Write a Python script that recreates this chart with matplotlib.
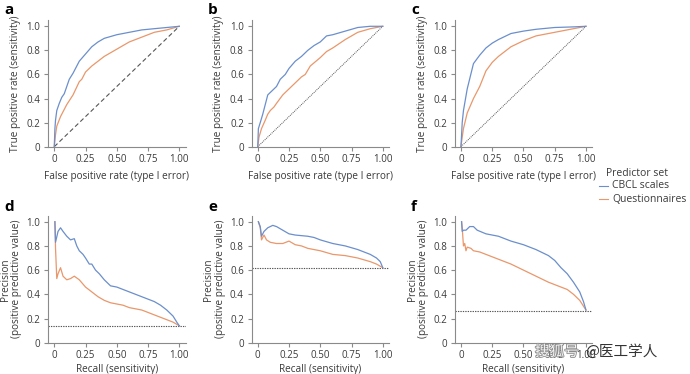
import matplotlib
matplotlib.use("Agg")
import matplotlib.pyplot as plt
from matplotlib.lines import Line2D
import matplotlib.patheffects as pe

plt.rcParams['font.family'] = ['Open Sans', 'DejaVu Sans']

BLUE = '#6b8fcc'
ORANGE = '#e9976b'
TXT = '#3a3a3a'
SPINE = '#8a8a8a'

# ---------------- ROC data ----------------
roc_a_cbcl_x = [0, 0.005, 0.01, 0.02, 0.04, 0.06, 0.08, 0.1, 0.12, 0.15, 0.18, 0.2, 0.25, 0.3, 0.35, 0.4, 0.5, 0.6, 0.7, 0.8, 0.9, 1.0]
roc_a_cbcl_y = [0, 0.15, 0.22, 0.3, 0.36, 0.41, 0.44, 0.5, 0.56, 0.61, 0.67, 0.71, 0.77, 0.83, 0.87, 0.9, 0.93, 0.95, 0.97, 0.98, 0.99, 1.0]
roc_a_q_x = [0, 0.01, 0.02, 0.05, 0.1, 0.15, 0.2, 0.22, 0.25, 0.3, 0.35, 0.4, 0.5, 0.6, 0.7, 0.8, 0.9, 1.0]
roc_a_q_y = [0, 0.1, 0.17, 0.25, 0.35, 0.43, 0.54, 0.56, 0.62, 0.67, 0.71, 0.75, 0.81, 0.87, 0.91, 0.95, 0.97, 1.0]

roc_b_cbcl_x = [0, 0.005, 0.02, 0.04, 0.06, 0.08, 0.1, 0.15, 0.18, 0.22, 0.25, 0.3, 0.35, 0.4, 0.45, 0.5, 0.55, 0.6, 0.7, 0.8, 0.9, 1.0]
roc_b_cbcl_y = [0, 0.15, 0.2, 0.27, 0.35, 0.43, 0.45, 0.5, 0.56, 0.6, 0.65, 0.71, 0.75, 0.8, 0.84, 0.87, 0.92, 0.93, 0.96, 0.99, 1.0, 1.0]
roc_b_q_x = [0, 0.01, 0.03, 0.06, 0.08, 0.1, 0.13, 0.15, 0.2, 0.25, 0.3, 0.35, 0.38, 0.42, 0.5, 0.55, 0.6, 0.7, 0.75, 0.8, 0.9, 1.0]
roc_b_q_y = [0, 0.08, 0.15, 0.22, 0.27, 0.3, 0.33, 0.36, 0.43, 0.48, 0.53, 0.58, 0.6, 0.67, 0.74, 0.79, 0.82, 0.89, 0.92, 0.95, 0.98, 1.0]

roc_c_cbcl_x = [0, 0.01, 0.02, 0.05, 0.1, 0.15, 0.2, 0.25, 0.3, 0.4, 0.5, 0.6, 0.75, 0.9, 1.0]
roc_c_cbcl_y = [0, 0.2, 0.3, 0.48, 0.69, 0.76, 0.82, 0.86, 0.89, 0.94, 0.96, 0.975, 0.99, 0.995, 1.0]
roc_c_q_x = [0, 0.01, 0.02, 0.05, 0.1, 0.15, 0.2, 0.25, 0.3, 0.4, 0.5, 0.6, 0.75, 0.9, 1.0]
roc_c_q_y = [0, 0.08, 0.15, 0.28, 0.4, 0.5, 0.63, 0.7, 0.75, 0.83, 0.88, 0.92, 0.95, 0.98, 1.0]

# ---------------- PR data ----------------
pr_d_cbcl_x = [0.005, 0.01, 0.03, 0.05, 0.07, 0.1, 0.13, 0.16, 0.18, 0.2, 0.23, 0.25, 0.28, 0.3, 0.33, 0.36, 0.4, 0.45, 0.5, 0.55, 0.6, 0.65, 0.7, 0.75, 0.8, 0.85, 0.9, 0.95, 0.98, 1.0]
pr_d_cbcl_y = [1.0, 0.83, 0.92, 0.95, 0.92, 0.88, 0.85, 0.86, 0.8, 0.76, 0.73, 0.7, 0.65, 0.65, 0.6, 0.57, 0.52, 0.47, 0.46, 0.44, 0.42, 0.4, 0.38, 0.36, 0.34, 0.31, 0.27, 0.22, 0.17, 0.14]
pr_d_q_x = [0.005, 0.01, 0.02, 0.03, 0.05, 0.07, 0.1, 0.13, 0.16, 0.2, 0.25, 0.3, 0.35, 0.4, 0.45, 0.5, 0.55, 0.6, 0.65, 0.7, 0.75, 0.8, 0.85, 0.9, 0.95, 1.0]
pr_d_q_y = [1.0, 0.78, 0.53, 0.57, 0.62, 0.55, 0.52, 0.53, 0.55, 0.52, 0.46, 0.42, 0.38, 0.35, 0.33, 0.32, 0.31, 0.29, 0.28, 0.27, 0.25, 0.23, 0.21, 0.19, 0.17, 0.14]

pr_e_cbcl_x = [0.005, 0.02, 0.03, 0.05, 0.08, 0.12, 0.15, 0.2, 0.25, 0.3, 0.4, 0.45, 0.5, 0.6, 0.7, 0.8, 0.9, 0.95, 0.98, 1.0]
pr_e_cbcl_y = [1.0, 0.96, 0.88, 0.92, 0.95, 0.97, 0.96, 0.93, 0.9, 0.89, 0.88, 0.87, 0.85, 0.82, 0.8, 0.77, 0.73, 0.7, 0.67, 0.62]
pr_e_q_x = [0.005, 0.02, 0.03, 0.05, 0.07, 0.1, 0.15, 0.2, 0.25, 0.3, 0.35, 0.4, 0.5, 0.6, 0.7, 0.8, 0.9, 0.95, 1.0]
pr_e_q_y = [1.0, 0.95, 0.85, 0.89, 0.85, 0.83, 0.82, 0.82, 0.84, 0.81, 0.8, 0.78, 0.76, 0.73, 0.72, 0.7, 0.67, 0.65, 0.62]

pr_f_cbcl_x = [0.005, 0.01, 0.02, 0.04, 0.07, 0.1, 0.13, 0.2, 0.3, 0.4, 0.5, 0.6, 0.7, 0.75, 0.8, 0.85, 0.9, 0.95, 0.98, 1.0]
pr_f_cbcl_y = [1.0, 0.92, 0.93, 0.93, 0.96, 0.96, 0.93, 0.9, 0.88, 0.84, 0.81, 0.77, 0.72, 0.68, 0.62, 0.57, 0.5, 0.42, 0.34, 0.27]
pr_f_q_x = [0.005, 0.01, 0.02, 0.03, 0.04, 0.05, 0.08, 0.1, 0.15, 0.2, 0.25, 0.3, 0.4, 0.5, 0.6, 0.7, 0.8, 0.85, 0.9, 0.95, 1.0]
pr_f_q_y = [1.0, 0.95, 0.8, 0.82, 0.76, 0.79, 0.78, 0.76, 0.75, 0.73, 0.71, 0.69, 0.65, 0.6, 0.55, 0.5, 0.46, 0.44, 0.4, 0.35, 0.27]

prevalence = [0.14, 0.615, 0.265]
panel_letters = ['a', 'b', 'c', 'd', 'e', 'f']
x_ticks = [0, 0.25, 0.5, 0.75, 1.0]
x_tick_labels = ['0', '0.25', '0.50', '0.75', '1.00']
y_ticks = [0, 0.2, 0.4, 0.6, 0.8, 1.0]
y_tick_labels = ['0', '0.2', '0.4', '0.6', '0.8', '1.0']
legend_title = 'Predictor set'
legend_labels = ['CBCL scales', 'Questionnaires']

FW, FH = 690, 374
fig = plt.figure(figsize=(6.9, 3.74), dpi=100)

lefts = [0.0696, 0.3645, 0.659]
W = 0.1993
top_bottom, top_h = 0.6078, 0.338
bot_bottom, bot_h = 0.0837, 0.3396

roc = [(roc_a_cbcl_x, roc_a_cbcl_y, roc_a_q_x, roc_a_q_y),
       (roc_b_cbcl_x, roc_b_cbcl_y, roc_b_q_x, roc_b_q_y),
       (roc_c_cbcl_x, roc_c_cbcl_y, roc_c_q_x, roc_c_q_y)]
pr = [(pr_d_cbcl_x, pr_d_cbcl_y, pr_d_q_x, pr_d_q_y),
      (pr_e_cbcl_x, pr_e_cbcl_y, pr_e_q_x, pr_e_q_y),
      (pr_f_cbcl_x, pr_f_cbcl_y, pr_f_q_x, pr_f_q_y)]

LABEL_FS = 7.2


def style(ax):
    for s in ['top', 'right']:
        ax.spines[s].set_visible(False)
    for s in ['left', 'bottom']:
        ax.spines[s].set_color(SPINE)
        ax.spines[s].set_linewidth(0.8)
    ax.set_xlim(-0.05, 1.05)
    ax.set_ylim(0, 1.05)
    ax.set_xticks(x_ticks)
    ax.set_xticklabels(x_tick_labels)
    ax.set_yticks(y_ticks)
    ax.set_yticklabels(y_tick_labels)
    ax.tick_params(length=3, width=0.8, color=SPINE, labelsize=7, labelcolor=TXT, pad=2.5)


for i in range(3):
    ax = fig.add_axes([lefts[i], top_bottom, W, top_h])
    style(ax)
    cx, cy, qx, qy = roc[i]
    if i == 0:
        ax.plot([0, 1], [0, 1], color='#555555', lw=0.8, ls=(0, (4, 2.5)))
    else:
        ax.plot([0, 1], [0, 1], color='#555555', lw=0.7, ls=(0, (1, 1)))
    ax.plot(qx, qy, color=ORANGE, lw=0.9)
    ax.plot(cx, cy, color=BLUE, lw=0.9)
    ax.set_xlabel('False positive rate (type I error)', fontsize=LABEL_FS, color=TXT, labelpad=4)
    ax.set_ylabel('True positive rate (sensitivity)', fontsize=LABEL_FS, color=TXT, labelpad=4)
    fig.text(lefts[i] - 0.063, 0.962, panel_letters[i], fontsize=11, fontweight='bold', color='black')

for i in range(3):
    ax = fig.add_axes([lefts[i], bot_bottom, W, bot_h])
    style(ax)
    cx, cy, qx, qy = pr[i]
    ax.axhline(prevalence[i], color='#555555', lw=0.8, ls=(0, (1.2, 1)))
    ax.plot(qx, qy, color=ORANGE, lw=0.9)
    ax.plot(cx, cy, color=BLUE, lw=0.9)
    ax.set_xlabel('Recall (sensitivity)', fontsize=LABEL_FS, color=TXT, labelpad=2)
    ax.set_ylabel('Precision\n(positive predictive value)', fontsize=LABEL_FS, color=TXT, labelpad=3, linespacing=1.05)
    fig.text(lefts[i] - 0.063, 0.437, panel_letters[i + 3], fontsize=11, fontweight='bold', color='black')

# legend drawn manually at the right side
fig.text(606 / FW, 1 - 173 / FH, legend_title, fontsize=7.5, color=TXT, va='center', ha='left')
for k, (lab, col) in enumerate(zip(legend_labels, [BLUE, ORANGE])):
    yy = 1 - (186 + 13 * k) / FH
    fig.add_artist(Line2D([599 / FW, 608 / FW], [yy, yy], color=col, lw=0.8, transform=fig.transFigure))
    fig.text(612 / FW, yy, lab, fontsize=7.5, color=TXT, va='center', ha='left')

cjk = ['Noto Sans CJK SC', 'DejaVu Sans']
fig.text(535 / FW, 1 - 352 / FH, '搜狐号', fontsize=10.5, color='#f4f4f4', family=cjk,
         va='center', ha='left', style='italic',
         path_effects=[pe.withStroke(linewidth=1.2, foreground='#8c8c8c')])
fig.text(585 / FW, 1 - 352 / FH, '@医工学人', fontsize=10.5, color='#333333', family=cjk,
         va='center', ha='left')

fig.savefig('out.png', dpi=100)
